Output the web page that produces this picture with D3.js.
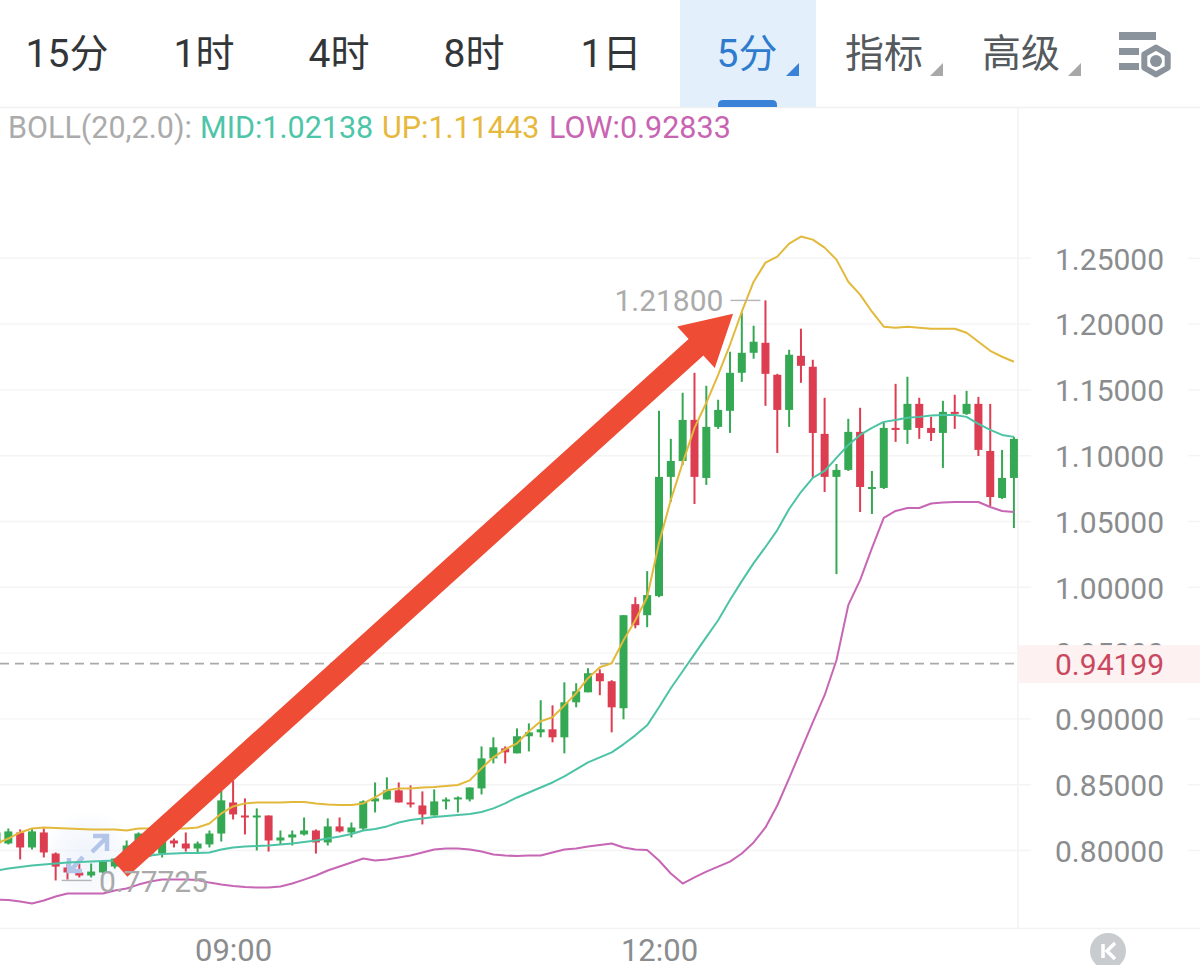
<!DOCTYPE html>
<html><head><meta charset="utf-8">
<script src="https://cdn.jsdelivr.net/npm/d3@7"></script>
<style>html,body{margin:0;padding:0;background:#fff;overflow:hidden}svg{display:block}text{font-family:Roboto,"Noto Sans CJK SC",sans-serif}</style>
</head><body><svg id="c" width="1200" height="965"></svg>
<script>
const opens=[.8053,.8053,.8137,.8023,.8137,.7977,.7871,.7833,.7810,.7833,.7878,.7924,.7939,.7977,.7977,.8076,.8053,.8015,.8046,.8129,
.8365,.8266,.8251,.8266,.8076,.8099,.8122,.8152,.8061,.8183,.8137,.8167,.8373,.8388,.8457,.8365,.8342,.8266,.8373,.8388,
.8388,.8472,.8700,.8776,.8738,.8868,.8898,.8921,.8860,.9126,.9202,.9347,.9286,.9081,.9872,.9788,.9933,1.0839,1.0960,1.1272,
1.0831,1.1219,1.1341,1.1630,1.1782,1.1858,1.1615,1.1348,1.1759,1.1676,1.1166,1.0839,1.0892,1.1181,1.0755,1.0755,1.1211,1.1196,1.1394,1.1211,
1.1173,1.1333,1.1318,1.1394,1.1036,1.0679,1.0831];
const highs=[.8167,.8167,.8160,.8167,.8167,.7985,.7901,.7901,.7901,.7924,.7939,.8076,.8137,.8076,.8114,.8091,.8137,.8068,.8152,.8457,
.8533,.8396,.8320,.8266,.8152,.8152,.8251,.8160,.8244,.8251,.8213,.8381,.8517,.8556,.8517,.8495,.8449,.8464,.8403,.8411,
.8479,.8791,.8860,.8791,.8928,.8966,.9142,.9103,.9278,.9271,.9385,.9377,.9294,.9788,.9925,1.0123,1.1341,1.1128,1.1478,1.1630,
1.1531,1.1425,1.1790,1.2087,1.1988,1.2180,1.1622,1.1805,1.1965,1.1729,1.1440,1.0937,1.1280,1.1364,1.0884,1.1257,1.1546,1.1600,1.1440,1.1295,
1.1417,1.1463,1.1493,1.1447,1.1394,1.1044,1.1143];
const lows=[.7924,.8046,.7932,.8008,.7947,.77725,.7779,.7795,.7795,.7825,.7863,.7863,.7886,.7954,.7947,.8023,.7992,.7985,.8023,.8068,
.8236,.8122,.8000,.7992,.8046,.8038,.8114,.7977,.8038,.8137,.8099,.8152,.8289,.8388,.8365,.8327,.8198,.8266,.8312,.8289,
.8373,.8426,.8662,.8662,.8738,.8753,.8860,.8822,.8738,.9088,.9202,.9180,.8898,.8997,.9689,.9697,.9925,1.0648,1.0930,1.0633,
1.0778,1.1204,1.1173,1.1561,1.1737,1.1379,1.1021,1.1219,1.1554,1.0831,1.0724,1.0100,1.0884,1.0572,1.0557,1.0747,1.1105,1.1090,1.1128,1.1112,
1.0907,1.1204,1.1310,1.0998,1.0618,1.0671,1.0450];
const closes=[.8137,.8145,.8023,.8145,.7985,.7878,.7833,.7810,.7840,.7916,.7939,.8038,.8129,.8023,.8076,.8053,.8015,.8053,.8129,.8381,
.8274,.8251,.8266,.8076,.8099,.8122,.8152,.8061,.8183,.8145,.8175,.8373,.8396,.8457,.8365,.8350,.8274,.8373,.8388,.8403,
.8479,.8700,.8784,.8746,.8868,.8898,.8921,.8860,.9126,.9210,.9347,.9286,.9088,.9788,.9712,.9941,1.0839,1.0960,1.1272,1.0839,
1.1219,1.1348,1.1630,1.1782,1.1866,1.1622,1.1348,1.1767,1.1683,1.1173,1.0839,1.0892,1.1181,1.0762,1.0762,1.1211,1.1204,1.1394,1.1211,1.1173,
1.1333,1.1326,1.1394,1.1044,1.0686,1.0831,1.1128];
const bollUp=[.8053,.8091,.8137,.8167,.8175,.8171,.8167,.8164,.8160,.8160,.8160,.8152,.8167,.8167,.8167,.8167,.8167,.8175,.8205,.8282,
.8335,.8358,.8365,.8365,.8365,.8369,.8369,.8358,.8350,.8346,.8346,.8358,.8403,.8457,.8472,.8472,.8479,.8483,.8491,.8498,
.8533,.8624,.8708,.8769,.8814,.8906,.8982,.9012,.9103,.9195,.9309,.9393,.9423,.9598,.9750,.9925,1.0336,1.0664,1.0945,1.1211,
1.1402,1.1615,1.1843,1.2094,1.2322,1.2467,1.2513,1.2612,1.2665,1.2642,1.2581,1.2490,1.2322,1.2224,1.2094,1.1980,1.1972,1.1980,1.1972,1.1965,
1.1965,1.1965,1.1934,1.1866,1.1797,1.1752,1.1714];
const bollMid=[.7848,.7863,.7874,.7886,.7893,.7901,.7909,.7912,.7916,.7920,.7924,.7939,.7954,.7962,.7973,.7977,.7981,.7981,.7985,.8008,
.8023,.8030,.8034,.8038,.8046,.8053,.8065,.8076,.8091,.8107,.8126,.8152,.8164,.8183,.8213,.8232,.8244,.8255,.8263,.8270,
.8278,.8293,.8320,.8358,.8403,.8441,.8479,.8517,.8563,.8616,.8670,.8708,.8746,.8807,.8875,.8951,.9088,.9233,.9362,.9492,
.9621,.9750,.9903,1.0047,1.0184,1.0306,1.0435,1.0595,1.0724,1.0831,1.0884,1.0983,1.1082,1.1158,1.1211,1.1257,1.1272,1.1288,1.1295,1.1306,
1.1310,1.1310,1.1295,1.1242,1.1196,1.1158,1.1143];
const bollLow=[.7627,.7623,.7612,.7597,.7620,.7650,.7673,.7673,.7673,.7673,.7696,.7711,.7741,.7764,.7779,.7779,.7779,.7776,.7756,.7741,
.7730,.7722,.7718,.7718,.7726,.7749,.7779,.7810,.7848,.7878,.7909,.7939,.7924,.7932,.7947,.7962,.7985,.8008,.8015,.8015,
.8008,.7992,.7970,.7962,.7958,.7962,.7962,.7985,.8008,.8015,.8030,.8042,.8053,.8023,.8008,.8004,.7924,.7825,.7749,.7795,
.7840,.7878,.7916,.7977,.8061,.8175,.8342,.8548,.8761,.8974,.9180,.9446,.9864,1.0055,1.0298,1.0527,1.0580,1.0603,1.0603,1.0637,
1.0644,1.0648,1.0648,1.0648,1.0610,1.0580,1.0572];
const priceTicks=[.80,.85,.90,.95,1.00,1.05,1.10,1.15,1.20,1.25];
const timeTickIdx=[20,56];
const timeTickLabels=["09:00","12:00"];
const tabs=["15分","1时","4时","8时","1日","5分","指标","高级"];
const tabCenters=[67,204,339,474,611,747,884,1021];
const lastPrice=0.94199, maxPrice=1.218, minPrice=0.77725, maxIdx=65, minIdx=5;
const legend=[["BOLL(20,2.0):",9,"#ababab"],["MID:1.02138",201,"#4cc5a8"],["UP:1.11443",383,"#e6b83c"],["LOW:0.92833",550,"#c864b2"]];
const arrowFrom={i:10.44,p:.7863}, arrowTo={i:62.26,p:1.2079};

const svg=d3.select("#c");
const x=d3.scaleLinear().domain([0,86]).range([-3.5,1013.9]);
const y=d3.scaleLinear().domain([.8,1.25]).range([850.5,258.3]);
const idx=d3.range(opens.length);
const GREEN="#35a853",RED="#dc3d50";

// Grid and frame
const grid=svg.append("g");
priceTicks.forEach(p=>{
  grid.append("line").attr("x1",0).attr("x2",1031).attr("y1",y(p)).attr("y2",y(p)).attr("stroke","#f4f4f4").attr("stroke-width",1.4);
  grid.append("line").attr("x1",1188).attr("x2",1200).attr("y1",y(p)).attr("y2",y(p)).attr("stroke","#f4f4f4").attr("stroke-width",1.4);
});
svg.append("line").attr("x1",0).attr("x2",1200).attr("y1",107.5).attr("y2",107.5).attr("stroke","#f0f0f0").attr("stroke-width",1.4);
svg.append("line").attr("x1",0).attr("x2",1200).attr("y1",928.5).attr("y2",928.5).attr("stroke","#f3f3f3").attr("stroke-width",1.6);
svg.append("line").attr("x1",1018).attr("x2",1018).attr("y1",107).attr("y2",928).attr("stroke","#f3f3f3").attr("stroke-width",1.6);

// Tabs
svg.append("rect").attr("x",680).attr("y",0).attr("width",136).attr("height",107).attr("fill","#e3effb");
svg.append("path").attr("d","M718 107V105Q718 100 723 100H772Q777 100 777 105V107Z").attr("fill","#3a82d8");
svg.selectAll("text.tab").data(tabs).join("text").attr("class","tab")
  .attr("x",(d,i)=>tabCenters[i]).attr("y",67).attr("text-anchor","middle").attr("font-size",39)
  .attr("fill",(d,i)=>i===5?"#2f7ccf":(i>5?"#555a5e":"#333638")).text(d=>d);
[[799,"#3a82d8"],[943,"#a8a8a8"],[1081,"#a8a8a8"]].forEach(([r,c])=>
  svg.append("path").attr("d",`M${r} 63V76H${r-13}Z`).attr("fill",c));
const ic=svg.append("g").attr("fill","#8a929c");
ic.append("rect").attr("x",1119).attr("y",32).attr("width",37).attr("height",8);
ic.append("rect").attr("x",1119).attr("y",48).attr("width",20).attr("height",7);
ic.append("rect").attr("x",1119).attr("y",63).attr("width",20).attr("height",7);
const hex=d3.range(6).map(k=>{const a=Math.PI/2+k*Math.PI/3;return [1156+13.5*Math.cos(a),61+13.5*Math.sin(a)]});
ic.append("polygon").attr("points",hex.join(" ")).attr("fill","#fff").attr("stroke","#8a929c").attr("stroke-width",6).attr("stroke-linejoin","round");
ic.append("circle").attr("cx",1156).attr("cy",61).attr("r",6);

// Legend
svg.selectAll("text.leg").data(legend).join("text").attr("class","leg")
  .attr("x",d=>d[1]-1).attr("y",138).attr("font-size",30.5).attr("fill",d=>d[2]).text(d=>d[0]);

// Axes
const ya=svg.append("g").attr("transform","translate(1055,0)")
  .call(d3.axisRight(y).tickValues(priceTicks).tickFormat(d3.format(".5f")).tickSize(0).tickPadding(0));
ya.select(".domain").remove();
ya.selectAll("text").attr("font-size",30).attr("fill","#8a8c8e").attr("font-family",'Roboto,sans-serif').attr("dy","0.36em");
const xa=svg.append("g").attr("transform","translate(0,928)")
  .call(d3.axisBottom(x).tickValues(timeTickIdx).tickFormat((d,i)=>timeTickLabels[i]).tickSize(0).tickPadding(0));
xa.select(".domain").remove();
xa.selectAll("text").attr("font-size",31).attr("fill","#8a8c8e").attr("font-family",'Roboto,sans-serif').attr("y",0).attr("dy",33);

// Last price
svg.append("rect").attr("x",1018).attr("y",y(lastPrice)-18.5).attr("width",182).attr("height",38).attr("fill","#fdf1f1");
svg.append("line").attr("x1",0).attr("x2",1015).attr("y1",y(lastPrice)).attr("y2",y(lastPrice))
  .attr("stroke","#a9a9a9").attr("stroke-width",1.6).attr("stroke-dasharray","9 6");
svg.append("text").attr("x",1055).attr("y",y(lastPrice)+11).attr("font-size",30).attr("fill","#c9485f").text(d3.format(".5f")(lastPrice));

// Doodle
const defs=svg.append("defs");
const rg=defs.append("radialGradient").attr("id","glow");
rg.append("stop").attr("offset","0%").attr("stop-color","#e8effa").attr("stop-opacity",.7);
rg.append("stop").attr("offset","70%").attr("stop-color","#eef3fb").attr("stop-opacity",.45);
rg.append("stop").attr("offset","100%").attr("stop-color","#f4f7fc").attr("stop-opacity",0);
svg.append("circle").attr("cx",88).attr("cy",856).attr("r",46).attr("fill","url(#glow)");

// Candles
const cg=svg.append("g");
const col=i=>closes[i]>=opens[i]?GREEN:RED;
cg.selectAll("line").data(idx).join("line")
  .attr("x1",i=>x(i)).attr("x2",i=>x(i)).attr("y1",i=>y(highs[i])).attr("y2",i=>y(lows[i]))
  .attr("stroke",col).attr("stroke-width",2);
cg.selectAll("rect").data(idx).join("rect")
  .attr("x",i=>x(i)-4).attr("width",8)
  .attr("y",i=>y(Math.max(opens[i],closes[i])))
  .attr("height",i=>Math.max(2,Math.abs(y(opens[i])-y(closes[i]))))
  .attr("fill",col);

// Doodle arrows
const dg=svg.append("g").attr("fill","none").attr("stroke","#b4c5ea").attr("stroke-width",4.5);
dg.append("path").attr("d","M92 852L107 837M93 836H107V851");
dg.append("path").attr("d","M83 857L70 871M69 858V871H82");

// BOLL
const line=arr=>d3.line().x(i=>x(i)).y(i=>y(arr[i])).curve(d3.curveLinear)(idx);
[[bollLow,"#c766b4"],[bollMid,"#4cc3a5"],[bollUp,"#e3b93c"]].forEach(([a,c])=>
  svg.append("path").attr("d",line(a)).attr("fill","none").attr("stroke",c).attr("stroke-width",2).attr("stroke-linejoin","round"));

// Hi / lo labels
svg.append("line").attr("x1",x(maxIdx)-35).attr("x2",x(maxIdx)-5).attr("y1",y(maxPrice)).attr("y2",y(maxPrice)).attr("stroke","#b5b5b5").attr("stroke-width",1.4);
svg.append("text").attr("x",x(maxIdx)-42).attr("y",y(maxPrice)+11).attr("text-anchor","end").attr("font-size",30).attr("fill","#ababab").text(d3.format(".5f")(maxPrice));
svg.append("line").attr("x1",x(minIdx)+6).attr("x2",x(minIdx)+36).attr("y1",y(minPrice)).attr("y2",y(minPrice)).attr("stroke","#b5b5b5").attr("stroke-width",1.4);

// Red arrow
const ax0=x(arrowFrom.i),ay0=y(arrowFrom.p),ax1=x(arrowTo.i),ay1=y(arrowTo.p);
const L=Math.hypot(ax1-ax0,ay1-ay0),ux=(ax1-ax0)/L,uy=(ay1-ay0)/L,nx=-uy,ny=ux;
const hw=11,bw=28,hl=50;
const bx=ax1-ux*hl,by=ay1-uy*hl;
const pts=[[ax0-nx*hw,ay0-ny*hw],[bx-nx*hw,by-ny*hw],[bx-nx*bw,by-ny*bw],[ax1,ay1],[bx+nx*bw,by+ny*bw],[bx+nx*hw,by+ny*hw],[ax0+nx*hw,ay0+ny*hw]];
svg.append("polygon").attr("points",pts.join(" ")).attr("fill","#ee4c34");

svg.append("text").attr("x",99).attr("y",y(minPrice)+12).attr("font-size",30).attr("fill","#a9a9a9").text(d3.format(".5f")(minPrice));

// K button
svg.append("circle").attr("cx",1108).attr("cy",951).attr("r",18).attr("fill","#c9cccf");
svg.append("path").attr("d","M1103 944V958M1115 943L1107 951L1115 959").attr("fill","none").attr("stroke","#fff").attr("stroke-width",3.5);
</script></body></html>
